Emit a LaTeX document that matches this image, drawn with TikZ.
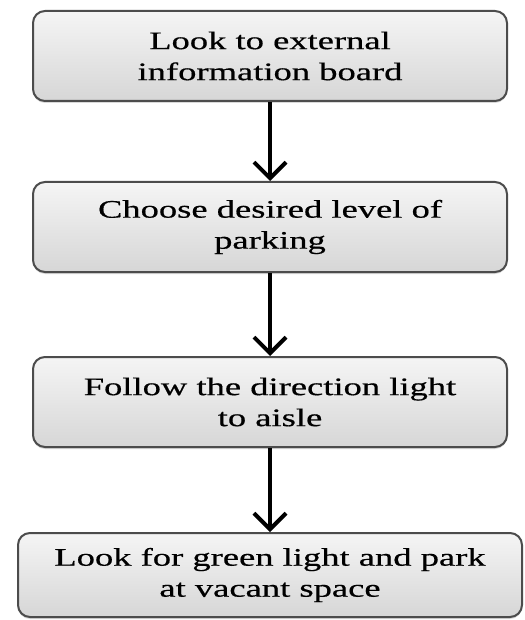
\documentclass[tikz,border=0pt]{standalone}
\usepackage{fontspec}
\setmainfont{Liberation Serif}[FakeStretch=1.45, FakeBold=0.5]
\usetikzlibrary{arrows.meta, shadows}

\tikzset{
  stepbox/.style={draw=black!70, line width=1pt, rounded corners=6pt,
    top color=gray!8, bottom color=gray!32, align=center, inner sep=0pt,
    minimum width=237pt, minimum height=45pt,
    font=\fontsize{12.6}{15.5}\selectfont,
    drop shadow={opacity=0.3, shadow xshift=0pt, shadow yshift=-1pt}},
  flow/.style={line width=2pt, -{Straight Barb[length=8pt, width=16pt, line width=2pt]}}
}

\begin{document}
\begin{tikzpicture}[x=0.5pt, y=-0.5pt]

    \useasboundingbox (0,0) rectangle (524,620);

    % The four steps
    \node[stepbox] (board) at (270,56) {Look to external\\information board};
    \node[stepbox] (level) at (270,227) {Choose desired level of\\parking};
    \node[stepbox] (aisle) at (270,402) {Follow the direction light\\to aisle};
    \node[stepbox, minimum width=252pt, minimum height=42pt] (space) at (270,575)
        {Look for green light and park\\at vacant space};

    % Arrows between the steps
    \draw[flow] (board) -- (level);
    \draw[flow] (level) -- (aisle);
    \draw[flow] (aisle) -- (space);

\end{tikzpicture}
\end{document}
